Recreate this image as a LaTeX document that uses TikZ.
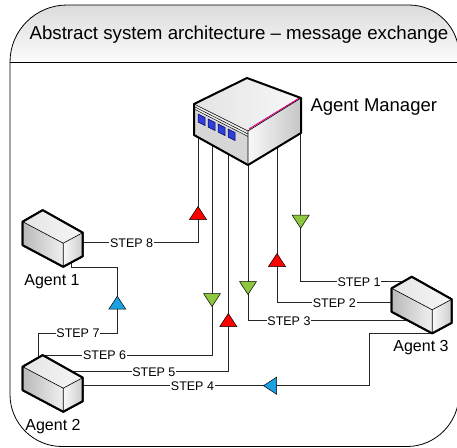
\documentclass[tikz,border=0pt]{standalone}
\usepackage{fontspec}
\setmainfont{Liberation Sans}
\definecolor{tred}{HTML}{FF0000}
\definecolor{tgreen}{HTML}{8DC63F}
\definecolor{tblue}{HTML}{1BA1E2}
\definecolor{keyblue}{HTML}{2E3FD6}
\tikzset{
  conn/.style={draw=black!85, line width=0.75pt},
  steplbl/.style={fill=white, inner sep=0.8pt, font=\fontsize{12.5}{14}\selectfont},
  agentlbl/.style={font=\fontsize{16}{19}\selectfont},
  boxline/.style={line width=2pt, line join=round},
  triup/.pic={\path[pic actions, draw=black, line width=0.5pt] (-8.5,6.5) -- (8.5,6.5) -- (0,-6.5) -- cycle;},
  tridown/.pic={\path[pic actions, draw=black, line width=0.5pt] (-8.5,-6.5) -- (8.5,-6.5) -- (0,6.5) -- cycle;},
  trileft/.pic={\path[pic actions, draw=black, line width=0.5pt] (6.5,-8.5) -- (6.5,8.5) -- (-6.5,0) -- cycle;},
  % small box for an agent, origin = left corner of the top face
  agent/.pic={
    \coordinate (-l) at (0,0);
    \coordinate (-top) at (20,-11.5);
    \coordinate (-f) at (40.5,21.5);
    \coordinate (-r) at (60,11);
    \coordinate (-lb) at (0,23.5);
    \coordinate (-fb) at (40.5,45);
    \coordinate (-rb) at (60,34.5);
    \shade[left color=gray!20, right color=gray!8] (-l) -- (-top) -- (-r) -- (-f) -- cycle;
    \shade[left color=gray!55, right color=gray!12] (-l) -- (-f) -- (-fb) -- (-lb) -- cycle;
    \shade[left color=gray!5, right color=gray!40] (-f) -- (-r) -- (-rb) -- (-fb) -- cycle;
    \draw[boxline] (-l) -- (-top) -- (-r) -- (-rb) -- (-fb) -- (-lb) -- cycle;
    \draw[line width=0.6pt] (-l) -- (-f) -- (-r) (-f) -- (-fb);
  }
}
\begin{document}
\begin{tikzpicture}[x=1pt, y=-1pt]
\useasboundingbox (0,0) rectangle (457,447);

% frame with title band
\shade[top color=gray!28, bottom color=gray!3] (10,62) .. controls (10,30.5) and (35.5,5) .. (67,5)
  -- (409,5) .. controls (436.6,5) and (459,27.4) .. (459,55) -- (459,62) -- cycle;
\draw[line width=0.8pt] (10,62) .. controls (10,30.5) and (35.5,5) .. (67,5)
  -- (409,5) .. controls (436.6,5) and (459,27.4) .. (459,55)
  -- (459,394) .. controls (459,422.7) and (435.7,446.5) .. (407,446.5)
  -- (62,446.5) .. controls (33.3,446.5) and (10,423.2) .. (10,394.5) -- cycle;
\draw[line width=0.8pt] (10,62) -- (459,62);
\node (title) at (239,35) {\fontsize{18.7}{22}\selectfont Abstract system architecture -- message exchange};

% agent manager
\coordinate (mT) at (247,78);
\coordinate (mL) at (194,104);
\coordinate (mF) at (248,131);
\coordinate (mR) at (301,98);
\coordinate (mLB) at (194,135);
\coordinate (mFB) at (248,165);
\coordinate (mRB) at (301,133);
\coordinate (m8) at (198,137.2);
\coordinate (m6) at (212,145);
\coordinate (m5) at (228.3,154.1);
\coordinate (m3) at (248,165);
\coordinate (m2) at (277,147.2);
\coordinate (m1) at (300.7,133);

% agents
\pic (a1) at (22.7,221.7) {agent};
\pic (a2) at (22.7,366.7) {agent};
\pic (a3) at (391.7,288.3) {agent};
\coordinate (a1-e8) at (82.7,242.7);
\coordinate (a1-b7) at (71.7,262);
\coordinate (a2-p7) at (38.3,357.7);
\coordinate (a2-p5) at (72,371.7);
\coordinate (a2-e4) at (82.7,385.7);
\coordinate (a3-p1) at (401.7,281.8);
\coordinate (a3-l2) at (391.7,302.7);
\coordinate (a3-p3) at (406.7,320.8);
\coordinate (b7a) at (38.3,333.3);
\coordinate (b7b) at (117.3,267.3);
\coordinate (b4) at (369.3,385.7);

% message lines
\draw[conn] (m1) |- node[steplbl, pos=0.789] (s1) {STEP 1} (a3-p1);
\draw[conn] (m2) |- node[steplbl, pos=0.75] (s2) {STEP 2} (a3-l2);
\draw[conn] (m3) |- node[steplbl, pos=0.629] (s3) {STEP 3} (a3-p3);
\draw[conn] (a3-fb) -| (b4) -- node[steplbl, pos=0.617] (s4) {STEP 4} (a2-e4);
\draw[conn] (a2-p5) -| node[steplbl, pos=0.262] (s5) {STEP 5} (m5);
\draw[conn] (m6) |- node[steplbl, pos=0.817] (s6) {STEP 6} (a2-top);
\draw[conn] (a2-p7) -- (b7a) -| node[steplbl, pos=0.251] (s7) {STEP 7} (b7b) -| (a1-b7);
\draw[conn] (a1-e8) -| node[steplbl, pos=0.212] (s8) {STEP 8} (m8);

% boxes again on top of the line ends
\pic at (22.7,221.7) {agent};
\pic at (22.7,366.7) {agent};
\pic at (391.7,288.3) {agent};

\shade[left color=gray!22, right color=gray!6] (mL) -- (mT) -- (mR) -- (mF) -- cycle;
\fill[gray!32] (mL) -- (mF) -- (mFB) -- (mLB) -- cycle;
\fill[gray!12] (mL) -- (mF) -- (248,137) -- (194,110) -- cycle;
\shade[shading angle=135, left color=gray!5, right color=gray!45] (mF) -- (mR) -- (mRB) -- (mFB) -- cycle;
\draw[line width=0.5pt] (195,107) -- (248,134) (195,109.5) -- (248,136.5);
\draw[magenta, line width=1pt] (249,129) -- (300,97.6);
\foreach \i in {0,...,3}
  \draw[fill=keyblue, draw=blue!40!black, line width=0.5pt]
    (198+10*\i,114+5*\i) -- ++(7,3.5) -- ++(0,8) -- ++(-7,-3.5) -- cycle;
\draw[boxline] (mL) -- (mT) -- (mR) -- (mRB) -- (mFB) -- (mLB) -- cycle;
\draw[line width=0.6pt] (mL) -- (mF) -- (mR) (mF) -- (mFB);

% direction marks
\pic[fill=tgreen] (t1) at (300.7,221.7) {tridown};
\pic[fill=tred] (t2) at (277,260) {triup};
\pic[fill=tgreen] (t3) at (248,288) {tridown};
\pic[fill=tblue] (t4) at (270,385.7) {trileft};
\pic[fill=tred] (t5) at (228.3,320) {triup};
\pic[fill=tgreen] (t6) at (212,300) {tridown};
\pic[fill=tblue] (t7) at (117.3,302.7) {triup};
\pic[fill=tred] (t8) at (198,213) {triup};

% labels
\node[agentlbl, anchor=west, font=\fontsize{18.5}{22}\selectfont] (lmgr) at (307,107) {Agent Manager};
\node[agentlbl] (la1) at (52,282) {Agent 1};
\node[agentlbl] (la2) at (53,427) {Agent 2};
\node[agentlbl] (la3) at (421,348) {Agent 3};
\end{tikzpicture}
\end{document}
